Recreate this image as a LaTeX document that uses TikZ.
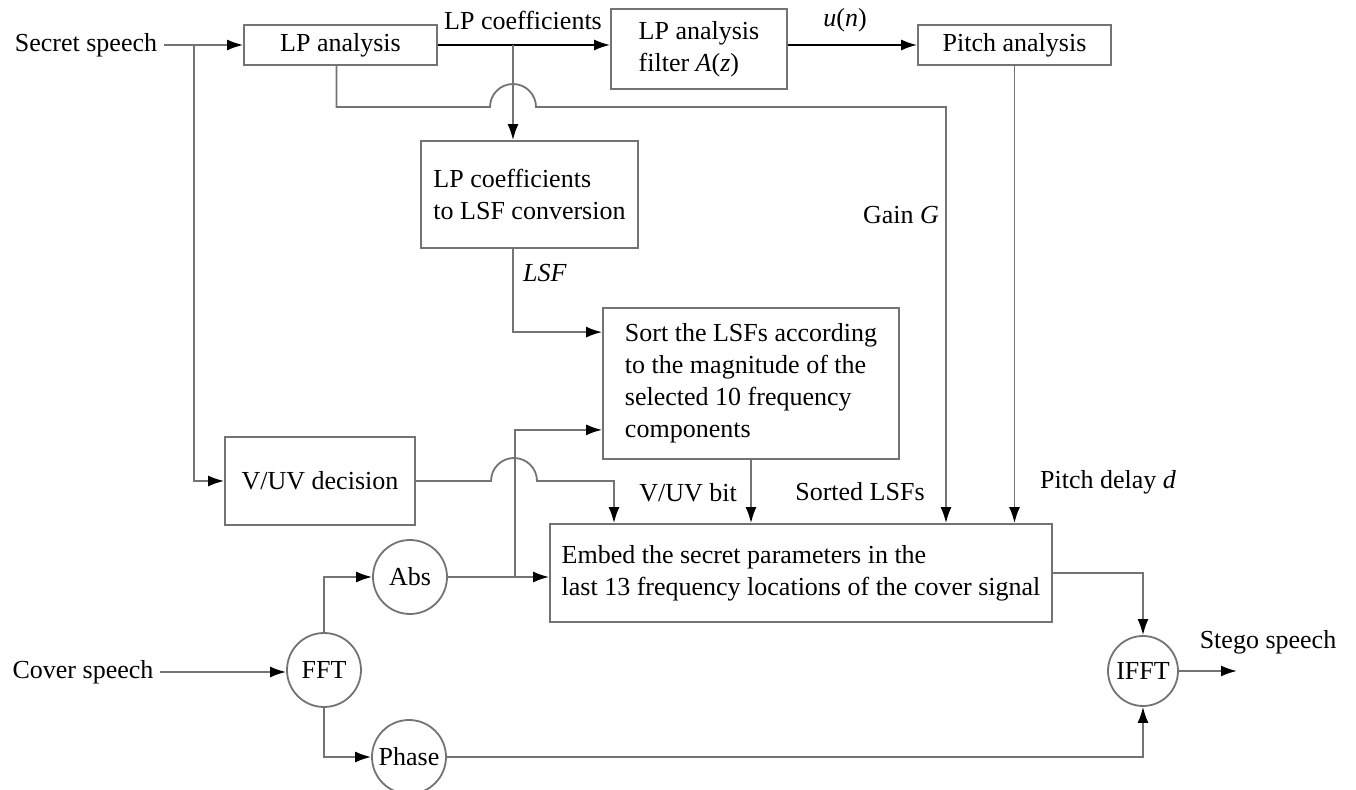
\documentclass[tikz,border=0pt]{standalone}
\usepackage{fontspec}
\setmainfont{Liberation Serif}
\usetikzlibrary{arrows.meta}

\begin{document}
\begin{tikzpicture}[x=0.5pt,y=0.5pt,
  font=\fontsize{13}{16}\selectfont,
  linea/.style={draw=black!55, line width=0.9pt},
  flecha/.style={linea, -{Latex[length=8pt,width=5.5pt,color=black]}},
  caja/.style={draw=black!55, line width=0.9pt, inner sep=3pt},
  disco/.style={draw=black!55, line width=0.9pt, circle, inner sep=0pt, minimum size=37pt}]
  \useasboundingbox (0,0) rectangle (1356,-790);

  % Bloques
  \node[caja, minimum width=96.5pt, minimum height=20pt] (lpa) at (340.5,-45) {LP analysis};
  \node[caja, minimum width=88pt, minimum height=40pt, align=left] (lpf) at (699,-49) {LP analysis\\filter \textit{A}(\textit{z})};
  \node[caja, minimum width=96.5pt, minimum height=20pt] (pitch) at (1014.5,-45) {Pitch analysis};
  \node[caja, minimum width=108.5pt, minimum height=53.5pt, align=left] (lsfc) at (529.5,-194.5) {LP coefficients\\to LSF conversion};
  \node[caja, minimum width=148pt, minimum height=75.5pt, align=left] (sort) at (751,-383.5) {Sort the LSFs according\\to the magnitude of the\\selected 10 frequency\\components};
  \node[caja, minimum width=95pt, minimum height=44pt] (vuv) at (320,-481) {V/UV decision};
  \node[caja, minimum width=251pt, minimum height=49pt, align=left, inner sep=1pt] (embed) at (801,-573) {Embed the secret parameters in the\\last 13 frequency locations of the cover signal};

  % Circulos
  \node[disco] (abs) at (410,-577) {Abs};
  \node[disco] (fft) at (324,-670) {FFT};
  \node[disco] (phase) at (409,-757) {Phase};
  \node[disco, minimum size=35pt] (ifft) at (1143,-671) {IFFT};

  % Entradas, salidas y etiquetas
  \node (secret) at (86,-45) {Secret speech};
  \node (cover) at (83,-672) {Cover speech};
  \node (stego) at (1268,-642) {Stego speech};
  \node (lpcoef) at (523,-20) {LP coefficients};
  \node (un) at (845,-20) {\textit{u}(\textit{n})};
  \node (lsf) at (545,-273) {\textit{LSF}};
  \node (gain) at (901,-215) {Gain \textit{G}};
  \node (vuvbit) at (688,-493) {V/UV bit};
  \node (sorted) at (860,-492) {Sorted LSFs};
  \node (pdelay) at (1108,-482) {Pitch delay \textit{d}};

  % Puntos de bifurcacion
  \coordinate (s1) at (194,-45);
  \coordinate (c1) at (513,-45);
  \coordinate (g1) at (946,-107);
  \coordinate (v1) at (614,-481);
  \coordinate (a1) at (515,-577);
  \coordinate (out) at (1237,-671);

  % Conexiones
  \draw[flecha] (secret.east) -- (lpa.west);
  \draw[flecha] (s1) |- (vuv.west);
  \draw[flecha, draw=black] (lpa.east) -- (lpa.east -| lpf.west);
  \draw[flecha] (c1) -- (c1 |- lsfc.north);
  \draw[flecha, draw=black] (lpf.east |- pitch.west) -- (pitch.west);
  \draw[flecha] ([xshift=-2pt]lpa.south) |- (490,-107) arc[start angle=180, end angle=0, radius=23] -- (g1) -- (g1 |- embed.north);
  \draw[flecha] (c1 |- lsfc.south) |- ([yshift=-12.5pt]sort.north west);
  \draw[flecha] (abs.east) -- (abs.east -| embed.west);
  \draw[flecha] (a1) |- ([yshift=15pt]sort.south west);
  \draw[flecha] (vuv.east) -- (491,-481) arc[start angle=180, end angle=0, radius=23] -- (v1) -- (v1 |- embed.north);
  \draw[flecha] (sort.south) -- (sort.south |- embed.north);
  \draw[flecha] (pitch.south) -- (pitch.south |- embed.north);
  \draw[flecha] (cover.east) -- (cover.east -| fft.west);
  \draw[flecha] (fft.north) |- (abs.west);
  \draw[flecha] (fft.south) |- (phase.west);
  \draw[flecha] (embed.east) -| (ifft.north);
  \draw[flecha] (phase.east) -| (ifft.south);
  \draw[flecha] (ifft.east) -- (out);
\end{tikzpicture}
\end{document}
